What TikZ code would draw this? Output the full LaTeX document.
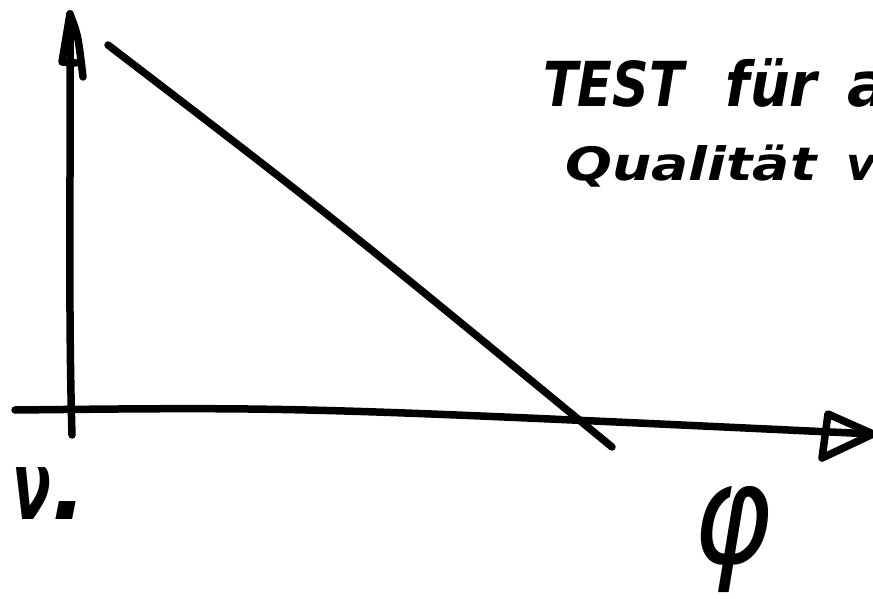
\documentclass[tikz,border=0pt]{standalone}
\usepackage{fontspec}
\newfontfamily\handfont{DejaVu Sans}
\begin{document}
\begin{tikzpicture}[x=1pt,y=-1pt,
  pen/.style={line width=7.5pt, line cap=round, line join=round, draw=black},
  handtext/.style={inner sep=0pt, text=black, font=\handfont\bfseries\itshape}]
\useasboundingbox (0,0) rectangle (873,599);
\clip (0,0) rectangle (873,599);
% named points
\coordinate (ybot) at (72,435);
\coordinate (ytop) at (70,14);
\coordinate (yl) at (62,62);
\coordinate (ylr) at (76,63);
\coordinate (yr) at (83,77);
\coordinate (xl) at (15,410);
\coordinate (xtip) at (873,434);
\coordinate (xat) at (828,414);
\coordinate (xab) at (822,458);
\coordinate (ds) at (108,45);
\coordinate (de) at (612,447);
% vertical axis with arrowhead
\draw[pen] (ybot) .. controls (68,300) and (71,150) .. (ytop);
\draw[pen] (ytop) -- (yl) -- (ylr);
\draw[pen] (ytop) .. controls (78,35) .. (yr);
% horizontal axis with arrowhead
\draw[pen] (xl) .. controls (300,407) .. (xtip);
\draw[pen] (xat) -- (xtip) -- (xab) -- cycle;
% diagonal
\draw[pen] (ds) .. controls (330,215) .. (de);
% texts
\node[handtext, anchor=base west, font=\handfont\bfseries\itshape\fontsize{62}{62}\selectfont] (t1) at (543,107)
  {\scalebox{0.82}[1]{TEST}\hspace{42pt}\scalebox{0.9}[1]{für}\hspace{30pt}a};
\node[handtext, anchor=base west, font=\handfont\bfseries\itshape\fontsize{46}{46}\selectfont] (t2) at (565,180)
  {\scalebox{1.2}[1]{Qualität}\hspace{30pt}v};
\node[handtext, anchor=base west, font=\handfont\bfseries\itshape\fontsize{95}{95}\selectfont] (nu) at (12,519)
  {\scalebox{0.6}[1]{ν}.};
\node[handtext, anchor=center, font=\handfont\itshape\fontsize{140}{140}\selectfont] (phi) at (733,540)
  {\scalebox{0.85}[1]{φ}};
\end{tikzpicture}
\end{document}
